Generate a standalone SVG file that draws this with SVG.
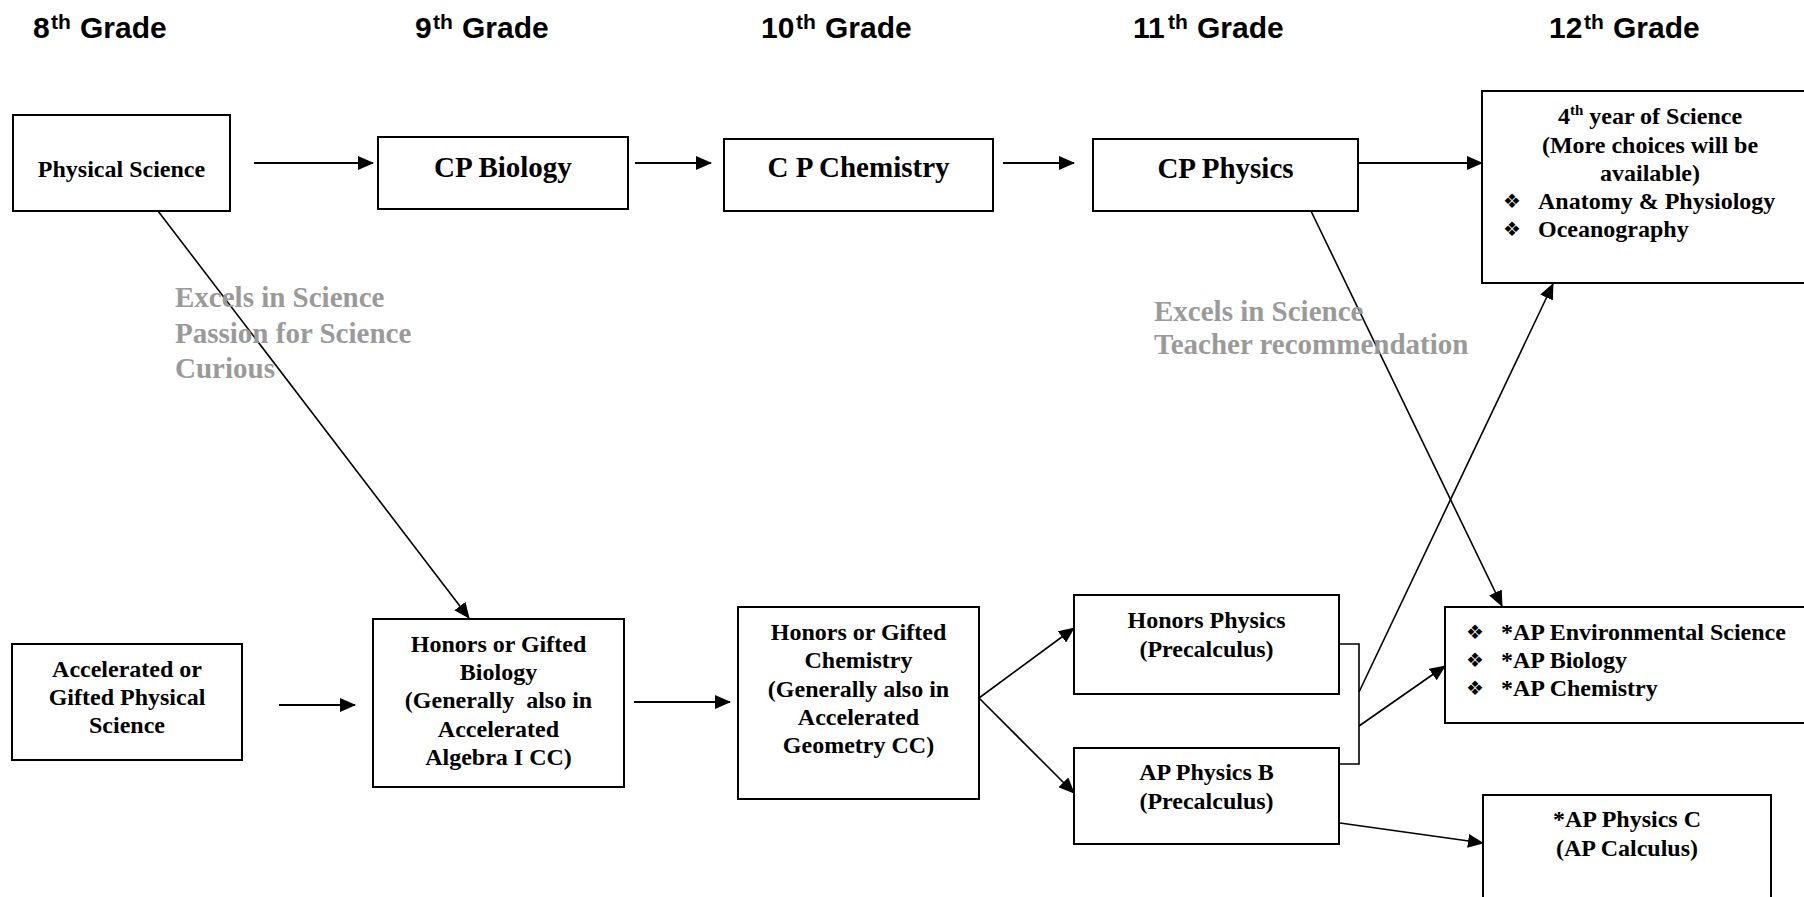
<svg xmlns="http://www.w3.org/2000/svg" width="1804" height="897" viewBox="0 0 1804 897">
<style>
.bg{fill:#fff}
.box{fill:#fff;stroke:#000;stroke-width:2}
.h{font-family:"Liberation Sans",Arial,sans-serif;font-weight:bold;font-size:30px;fill:#000}
.sup{font-size:21px}
.t{font-family:"Liberation Serif","Times New Roman",serif;font-weight:bold;font-size:24px;fill:#000;text-anchor:middle}
.tl{font-family:"Liberation Serif","Times New Roman",serif;font-weight:bold;font-size:24px;fill:#000}
.big{font-size:29px}
.g{font-family:"Liberation Serif","Times New Roman",serif;font-weight:bold;font-size:29px;fill:#9a9a9a}
.b{font-family:"DejaVu Sans",sans-serif;font-size:20px;fill:#000}
.c{fill:none;stroke:#000;stroke-width:2}
.c1{fill:none;stroke:#000;stroke-width:1.6}
</style>
<defs>
<marker id="ah" markerUnits="userSpaceOnUse" markerWidth="16" markerHeight="14" refX="15" refY="7" orient="auto">
<path d="M0,0 L16,7 L0,14 z" fill="#000"/>
</marker>
</defs>
<rect class="bg" x="0" y="0" width="1804" height="897"/>

<g id="headers">
<text class="h" y="38"><tspan x="33">8</tspan><tspan class="sup" x="51" y="29">th</tspan><tspan x="80" y="38">Grade</tspan></text>
<text class="h" y="38"><tspan x="415">9</tspan><tspan class="sup" x="433" y="29">th</tspan><tspan x="462" y="38">Grade</tspan></text>
<text class="h" y="38"><tspan x="761">10</tspan><tspan class="sup" x="796" y="29">th</tspan><tspan x="825" y="38">Grade</tspan></text>
<text class="h" y="38"><tspan x="1133">11</tspan><tspan class="sup" x="1168" y="29">th</tspan><tspan x="1197" y="38">Grade</tspan></text>
<text class="h" y="38"><tspan x="1549">12</tspan><tspan class="sup" x="1584" y="29">th</tspan><tspan x="1613" y="38">Grade</tspan></text>
</g>

<g id="connectors">
<path class="c" d="M254,163 L373,163" marker-end="url(#ah)"/>
<path class="c" d="M635,163 L711,163" marker-end="url(#ah)"/>
<path class="c" d="M1003,163 L1074,163" marker-end="url(#ah)"/>
<path class="c" d="M1358,163 L1482,163" marker-end="url(#ah)"/>
<path class="c" d="M279,705 L355,705" marker-end="url(#ah)"/>
<path class="c" d="M634,702 L730,702" marker-end="url(#ah)"/>
<path class="c1" d="M158,211 L469,618" marker-end="url(#ah)"/>
<path class="c1" d="M1311,211 L1502,606" marker-end="url(#ah)"/>
<path class="c1" d="M979,698 L1074,628" marker-end="url(#ah)"/>
<path class="c1" d="M979,698 L1074,793" marker-end="url(#ah)"/>
<path class="c1" d="M1339,644 L1359,644 L1359,764 L1339,764"/>
<path class="c1" d="M1359,692 L1553,284" marker-end="url(#ah)"/>
<path class="c1" d="M1359,726 L1445,666" marker-end="url(#ah)"/>
<path class="c1" d="M1340,823 L1483,843" marker-end="url(#ah)"/>
</g>

<g id="labels">
<text class="g"><tspan x="175" y="307">Excels in Science</tspan><tspan x="175" y="343">Passion for Science</tspan><tspan x="175" y="378">Curious</tspan></text>
<text class="g"><tspan x="1154" y="321">Excels in Science</tspan><tspan x="1154" y="354">Teacher recommendation</tspan></text>
</g>

<g id="physical-science">
<rect class="box" x="13" y="115" width="217" height="96"/>
<text class="t" x="121.5" y="177">Physical Science</text>
</g>
<g id="cp-biology">
<rect class="box" x="378" y="137" width="250" height="72"/>
<text class="t big" x="503" y="177">CP Biology</text>
</g>
<g id="cp-chemistry">
<rect class="box" x="724" y="139" width="269" height="72"/>
<text class="t big" x="858.5" y="177">C P Chemistry</text>
</g>
<g id="cp-physics">
<rect class="box" x="1093" y="139" width="265" height="72"/>
<text class="t big" x="1225.5" y="178">CP Physics</text>
</g>
<g id="fourth-year">
<rect class="box" x="1482" y="91" width="340" height="192"/>
<text class="t" x="1650" y="124">4<tspan font-size="15" dy="-9">th</tspan><tspan dy="9"> year of Science</tspan></text>
<text class="t" x="1650" y="153">(More choices will be</text>
<text class="t" x="1650" y="181">available)</text>
<text class="b" x="1503" y="208">❖</text>
<text class="tl" x="1538" y="209">Anatomy &amp; Physiology</text>
<text class="b" x="1503" y="236">❖</text>
<text class="tl" x="1538" y="237">Oceanography</text>
</g>
<g id="accelerated">
<rect class="box" x="12" y="644" width="230" height="116"/>
<text class="t"><tspan x="127" y="677">Accelerated or</tspan><tspan x="127" y="705">Gifted Physical</tspan><tspan x="127" y="733">Science</tspan></text>
</g>
<g id="honors-biology">
<rect class="box" x="373" y="619" width="251" height="168"/>
<text class="t" xml:space="preserve"><tspan x="498.5" y="652">Honors or Gifted</tspan><tspan x="498.5" y="680">Biology</tspan><tspan x="498.5" y="708">(Generally  also in</tspan><tspan x="498.5" y="737">Accelerated</tspan><tspan x="498.5" y="765">Algebra I CC)</tspan></text>
</g>
<g id="honors-chemistry">
<rect class="box" x="738" y="607" width="241" height="192"/>
<text class="t"><tspan x="858.5" y="640">Honors or Gifted</tspan><tspan x="858.5" y="668">Chemistry</tspan><tspan x="858.5" y="697">(Generally also in</tspan><tspan x="858.5" y="725">Accelerated</tspan><tspan x="858.5" y="753">Geometry CC)</tspan></text>
</g>
<g id="honors-physics">
<rect class="box" x="1074" y="595" width="265" height="99"/>
<text class="t"><tspan x="1206.5" y="628">Honors Physics</tspan><tspan x="1206.5" y="657">(Precalculus)</tspan></text>
</g>
<g id="ap-physics-b">
<rect class="box" x="1074" y="748" width="265" height="96"/>
<text class="t"><tspan x="1206.5" y="780">AP Physics B</tspan><tspan x="1206.5" y="809">(Precalculus)</tspan></text>
</g>
<g id="ap-courses">
<rect class="box" x="1445" y="607" width="370" height="116"/>
<text class="b" x="1466" y="639">❖</text>
<text class="tl" x="1501" y="640">*AP Environmental Science</text>
<text class="b" x="1466" y="667">❖</text>
<text class="tl" x="1501" y="668">*AP Biology</text>
<text class="b" x="1466" y="695">❖</text>
<text class="tl" x="1501" y="696">*AP Chemistry</text>
</g>
<g id="ap-physics-c">
<rect class="box" x="1483" y="795" width="288" height="120"/>
<text class="t"><tspan x="1627" y="827">*AP Physics C</tspan><tspan x="1627" y="856">(AP Calculus)</tspan></text>
</g>
</svg>
